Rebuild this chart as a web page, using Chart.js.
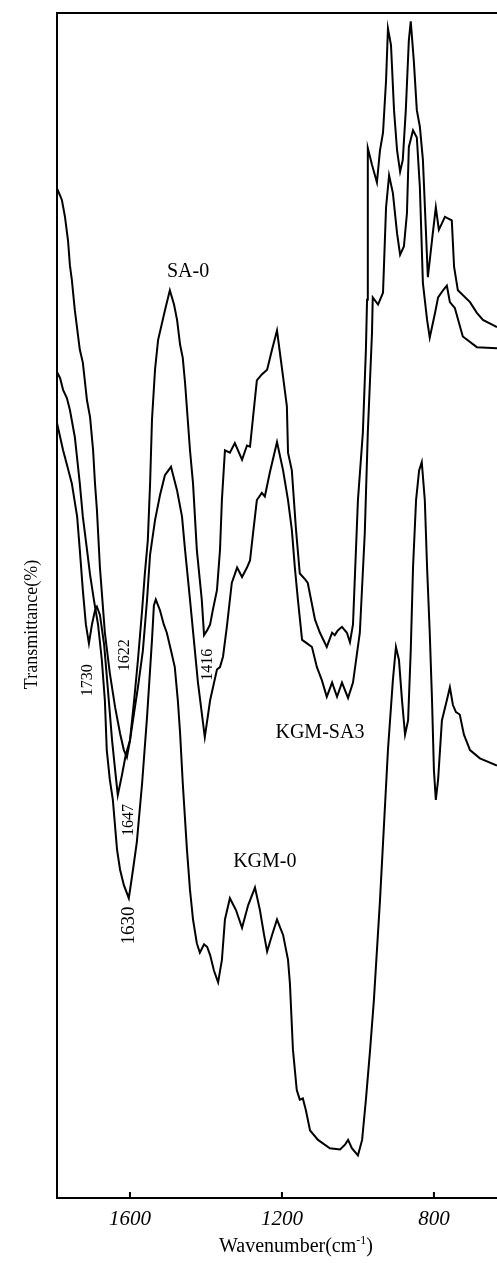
<!DOCTYPE html>
<html>
<head>
<meta charset="utf-8">
<script src="https://cdn.jsdelivr.net/npm/chart.js@4.4.0/dist/chart.umd.min.js"></script>
<style>
  body { margin: 0; background: #fff; }
  #wrap { width: 497px; height: 1263px; }
</style>
</head>
<body>
<div id="wrap"><canvas id="irChart" width="497" height="1263"></canvas></div>
<script>
// x ticks (wavenumber, cm-1)
const xTicks = [1600, 1200, 800];

// SA-0 spectrum
const saWn = [1792,1784,1779,1771,1763,1758,1753,1745,1732,1724,1713,1705,1697,1692,1687,1679,1666,1653,1639,1626,1616,1608,1600,1589,1579,1568,1561,1553,1547,1542,1534,1526,1508,1495,1484,1476,1468,1461,1455,1442,1434,1424,1411,1405,1397,1389,1382,1371,1363,1358,1350,1337,1324,1305,1292,1284,1276,1266,1253,1239,1226,1213,1197,1187,1184,1174,1163,1153,1139,1132,1113,1100,1082,1068,1061,1053,1042,1029,1021,1013,1000,987,979,976,974,963,950,942,934,926,921,913,905,897,889,882,874,866,861,853,845,837,829,816,803,795,787,771,753,747,737,705,687,671,634];
const saT = [85.2,84.6,84.2,82.8,80.8,78.7,77.5,74.9,71.6,70.5,67.3,65.9,63.1,60.3,58.1,53.2,47.7,44.3,41.4,39.2,37.8,37.2,38.6,42.0,45.4,49.6,52.6,55.5,60.3,65.7,69.9,72.4,74.9,76.6,75.4,74.1,72.0,70.9,68.8,63.1,60.3,54.7,50.5,47.5,47.9,48.4,49.6,51.3,54.7,58.9,63.1,62.9,63.7,62.3,63.5,63.4,65.9,69.0,69.5,69.9,71.6,73.2,69.3,66.8,62.9,61.4,56.4,52.7,52.2,51.9,48.8,47.7,46.5,47.7,47.5,47.9,48.2,47.7,46.9,48.4,58.9,64.6,71.6,75.8,88.6,87.2,85.7,88.4,89.9,94.3,98.7,97.3,91.8,88.4,86.6,87.6,91.8,97.7,99.3,96.0,91.8,90.4,87.6,77.7,81.4,83.6,81.7,82.8,82.5,78.6,76.6,75.6,74.7,74.1,73.5];

// KGM-SA3 spectrum
const blendWn = [1792,1776,1766,1753,1739,1732,1724,1716,1708,1700,1692,1687,1679,1668,1658,1647,1639,1632,1621,1611,1600,1587,1579,1566,1555,1547,1534,1521,1508,1492,1476,1463,1455,1442,1421,1403,1389,1371,1363,1355,1345,1332,1318,1305,1292,1284,1276,1266,1253,1245,1232,1213,1197,1184,1174,1166,1158,1147,1134,1121,1108,1095,1082,1068,1055,1042,1026,1013,995,982,974,963,961,947,934,926,918,908,897,889,879,871,866,855,845,837,829,818,811,797,789,776,766,758,745,724,687,634];
const blendT = [65.4,63.1,61.9,60.3,57.5,54.7,51.3,48.4,46.8,48.4,49.6,49.9,49.2,46.7,42.9,38.6,36.1,34.0,35.7,37.4,38.6,41.4,43.1,46.2,50.5,54.3,57.2,59.3,61.0,61.7,59.7,57.5,54.7,50.5,43.5,38.9,42.0,44.6,44.8,45.7,48.2,51.9,53.2,52.4,53.2,53.8,56.1,58.9,59.5,59.2,61.2,63.8,61.4,58.9,56.4,53.2,50.5,47.1,46.8,46.5,44.8,43.7,42.3,43.5,42.3,43.5,42.2,43.5,47.7,56.1,64.6,73.0,76.0,75.4,76.4,83.6,86.3,84.8,81.4,79.6,80.3,83.1,88.7,90.1,89.5,85.3,77.2,74.1,72.6,74.7,76.0,76.6,77.0,75.6,75.1,72.7,71.8,71.7];

// KGM-0 spectrum
const kgmWn = [1792,1784,1776,1766,1758,1745,1732,1724,1713,1705,1695,1684,1674,1666,1661,1653,1645,1634,1626,1616,1603,1592,1582,1568,1555,1547,1542,1537,1532,1521,1511,1503,1492,1482,1474,1468,1461,1450,1442,1434,1424,1416,1405,1397,1389,1379,1368,1358,1350,1337,1321,1305,1289,1271,1258,1247,1239,1226,1213,1197,1184,1179,1171,1161,1153,1145,1137,1126,1105,1074,1047,1034,1026,1016,1000,989,979,968,958,942,921,908,900,892,884,876,868,861,855,847,839,832,824,818,811,805,800,795,789,779,766,758,750,742,732,721,705,679,634];
const kgmT = [69.7,69.2,68.2,67.5,66.5,64.2,60.3,57.5,54.7,52.6,50.5,48.4,45.4,42.0,37.8,35.3,33.6,29.4,27.7,26.4,25.3,27.7,30.0,35.0,40.6,44.6,47.1,50.0,50.5,49.6,48.4,47.7,46.2,44.8,42.0,39.2,35.0,29.4,26.0,23.5,21.5,20.7,21.4,21.2,20.5,19.2,18.2,20.1,23.5,25.3,24.3,22.8,24.7,26.2,24.3,22.2,20.8,22.2,23.5,22.2,20.1,18.1,12.5,9.1,8.3,8.4,7.4,5.7,4.9,4.2,4.1,4.5,4.9,4.2,3.6,4.9,8.3,12.5,16.7,25.1,37.8,43.7,46.5,45.4,42.0,39.1,40.3,46.2,53.2,58.9,61.4,62.1,58.9,53.2,47.7,42.0,36.1,33.6,35.3,40.3,42.0,43.1,41.6,41.0,40.8,39.1,37.8,37.1,36.5];

// text on the plot: label, wavenumber, transmittance, rotated?
const annText = ['SA-0', 'KGM-SA3', 'KGM-0', '1730', '1622', '1416', '1647', '1630'];
const annWn = [1447, 1100, 1245, 1711, 1613, 1395, 1603, 1603];
const annT = [78.2, 39.3, 28.4, 43.7, 45.8, 45.0, 31.9, 23.0];
const annRot = [false, false, false, true, true, true, true, true];
const annSize = [20, 20, 20, 16, 16, 16, 16, 19];

function toPoints(wn, t) {
  return wn.map((v, i) => ({ x: v, y: t[i] }));
}

const serif = '"Liberation Serif", "DejaVu Serif", serif';

// frame, inward ticks, titles and labels
const decor = {
  id: 'decor',
  afterDraw(chart) {
    const ctx = chart.ctx;
    const a = chart.chartArea;
    const xs = chart.scales.x;
    const ys = chart.scales.y;
    ctx.save();
    ctx.strokeStyle = '#000';
    ctx.lineWidth = 2;
    ctx.beginPath();
    ctx.moveTo(a.right, a.top);
    ctx.lineTo(a.left, a.top);
    ctx.lineTo(a.left, a.bottom);
    ctx.lineTo(a.right, a.bottom);
    ctx.stroke();
    xs.ticks.forEach(t => {
      const px = xs.getPixelForValue(t.value);
      ctx.beginPath();
      ctx.moveTo(px, a.bottom);
      ctx.lineTo(px, a.bottom - 6);
      ctx.stroke();
    });

    ctx.fillStyle = '#000';
    ctx.textAlign = 'center';
    ctx.textBaseline = 'middle';
    annText.forEach((txt, i) => {
      const px = xs.getPixelForValue(annWn[i]);
      const py = ys.getPixelForValue(annT[i]);
      ctx.font = annSize[i] + 'px ' + serif;
      ctx.save();
      ctx.translate(px, py);
      if (annRot[i]) ctx.rotate(-Math.PI / 2);
      ctx.fillText(txt, 0, 0);
      ctx.restore();
    });

    // y title
    ctx.font = '18px ' + serif;
    ctx.save();
    ctx.translate(32, (a.top + a.bottom) / 2 + 19);
    ctx.rotate(-Math.PI / 2);
    ctx.fillText('Transmittance(%)', 0, 0);
    ctx.restore();

    // x title with superscript
    const main = 'Wavenumber(cm';
    const sup = '-1';
    ctx.font = '20px ' + serif;
    const w1 = ctx.measureText(main).width;
    const w3 = ctx.measureText(')').width;
    ctx.font = '12px ' + serif;
    const w2 = ctx.measureText(sup).width;
    const total = w1 + w2 + w3;
    let x0 = 296 - total / 2;
    const yb = 1252;
    ctx.textAlign = 'left';
    ctx.textBaseline = 'alphabetic';
    ctx.font = '20px ' + serif;
    ctx.fillText(main, x0, yb);
    ctx.font = '12px ' + serif;
    ctx.fillText(sup, x0 + w1, yb - 8);
    ctx.font = '20px ' + serif;
    ctx.fillText(')', x0 + w1 + w2, yb);
    ctx.restore();
  }
};

const lineStyle = { borderColor: '#000', borderWidth: 2, pointRadius: 0, tension: 0, fill: false };

new Chart(document.getElementById('irChart'), {
  type: 'line',
  data: {
    datasets: [
      Object.assign({ label: 'SA-0', data: toPoints(saWn, saT) }, lineStyle),
      Object.assign({ label: 'KGM-SA3', data: toPoints(blendWn, blendT) }, lineStyle),
      Object.assign({ label: 'KGM-0', data: toPoints(kgmWn, kgmT) }, lineStyle)
    ]
  },
  options: {
    responsive: false,
    animation: false,
    devicePixelRatio: 1,
    layout: { padding: { left: 57, top: 13, right: 0, bottom: 0 } },
    plugins: { legend: { display: false }, tooltip: { enabled: false } },
    scales: {
      x: {
        type: 'linear',
        reverse: true,
        min: 634,
        max: 1792,
        afterBuildTicks: s => { s.ticks = xTicks.map(v => ({ value: v })); },
        afterFit: s => { s.height = 65; },
        grid: { display: false, drawTicks: false },
        border: { display: false },
        ticks: {
          color: '#000',
          padding: 9,
          maxRotation: 0,
          autoSkip: false,
          callback: v => String(v),
          font: { family: serif, size: 21, style: 'italic' }
        }
      },
      y: { display: false, min: 0, max: 100 }
    }
  },
  plugins: [decor]
});
</script>
</body>
</html>
